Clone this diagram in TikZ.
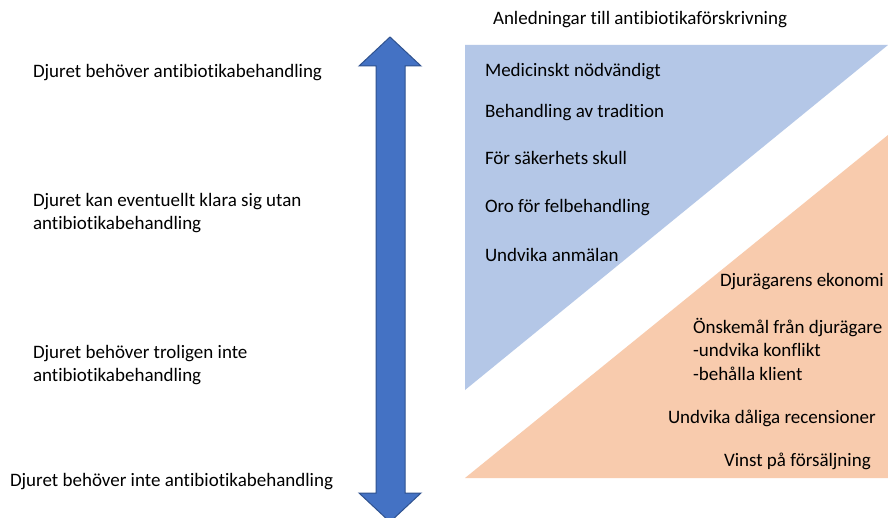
\documentclass[tikz,border=0pt]{standalone}
\usepackage{fontspec}
\setmainfont[Ligatures={NoCommon}]{Carlito}
\definecolor{arrowfill}{HTML}{4472C4}
\definecolor{arrowline}{HTML}{2F528F}
\definecolor{bluetri}{HTML}{B4C7E7}
\definecolor{orangetri}{HTML}{F8CBAD}
\begin{document}
\begin{tikzpicture}[x=1pt,y=-1pt,
  lbl/.style={inner sep=0pt,outer sep=0pt,anchor=west,align=left,
    font=\fontsize{19}{23.5}\selectfont}]
\useasboundingbox (0,0) rectangle (888,518);
\clip (0,0) rectangle (888,518);
\fill[white] (0,0) rectangle (888,518);
% triangles
\fill[bluetri] (465,45) -- (888,45) -- (465,390) -- cycle;
\fill[orangetri] (465,478) -- (888,478) -- (888,135) -- cycle;
% double arrow
\filldraw[fill=arrowfill,draw=arrowline,line width=1pt,line join=miter]
  (390,37) -- (421,66) -- (405,66) -- (405,493) -- (421,493) -- (390,522)
  -- (359,493) -- (376,493) -- (376,66) -- (359,66) -- cycle;
% title
\node[lbl] (title) at (493,20) {Anledningar till antibiotikaförskrivning};
% left labels
\node[lbl] (l1) at (33,73) {Djuret behöver antibiotikabehandling};
\node[lbl] (l2) at (33,213) {Djuret kan eventuellt klara sig utan\\antibiotikabehandling};
\node[lbl] (l3) at (33,365) {Djuret behöver troligen inte\\antibiotikabehandling};
\node[lbl] (l4) at (10,482) {Djuret behöver inte antibiotikabehandling};
% blue triangle labels
\node[lbl] (b1) at (485,72) {Medicinskt nödvändigt};
\node[lbl] (b2) at (485,113) {Behandling av tradition};
\node[lbl] (b3) at (485,158) {För säkerhets skull};
\node[lbl] (b4) at (485,208) {Oro för felbehandling};
\node[lbl] (b5) at (485,255) {Undvika anmälan};
% orange triangle labels
\node[lbl] (o1) at (720,282) {Djurägarens ekonomi};
\node[lbl] (o2) at (693,349) {Önskemål från djurägare\\-undvika konflikt\\-behålla klient};
\node[lbl] (o3) at (668,418) {Undvika dåliga recensioner};
\node[lbl] (o4) at (724,461) {Vinst på försäljning};
\end{tikzpicture}
\end{document}
